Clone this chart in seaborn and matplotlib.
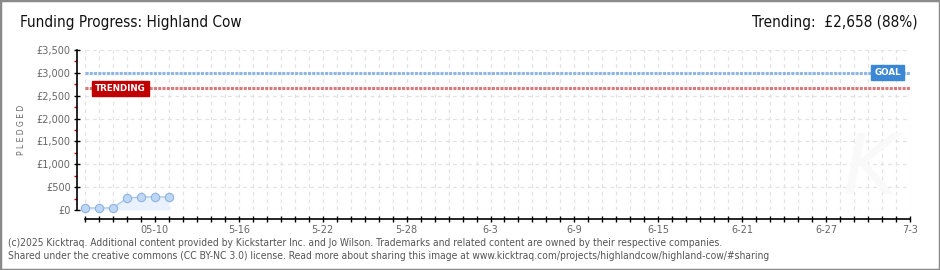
import pandas as pd
import numpy as np
import matplotlib
matplotlib.use('Agg')
import matplotlib.pyplot as plt
import matplotlib.dates as mdates
import matplotlib.patches as patches
import matplotlib.transforms as mtransforms
from matplotlib.ticker import FuncFormatter, MultipleLocator
import seaborn as sns

sns.set_style('white')
plt.rcParams['font.family'] = ['DejaVu Sans']

# data
dates = ['2025-05-05', '2025-05-06', '2025-05-07', '2025-05-08',
         '2025-05-09', '2025-05-10', '2025-05-11']
pledged = [45, 45, 45, 260, 285, 285, 285]
goal = 3000
trending = 2658
x_start, x_end = '2025-05-05', '2025-07-03'
tick_dates = ['2025-05-10', '2025-05-16', '2025-05-22', '2025-05-28', '2025-06-03',
              '2025-06-09', '2025-06-15', '2025-06-21', '2025-06-27', '2025-07-03']
tick_labels = ['05-10', '5-16', '5-22', '5-28', '6-3', '6-9', '6-15', '6-21', '6-27', '7-3']

df = pd.DataFrame({'date': pd.to_datetime(dates), 'pledged': pledged})

W, H = 940, 270
fig = plt.figure(figsize=(W / 100, H / 100), dpi=100)
ax = fig.add_axes([85 / W, (H - 210) / H, (910 - 85) / W, 160 / H])

# area + line
ax.fill_between(df['date'], df['pledged'], color='#e9f2fc', lw=0, zorder=1)
sns.lineplot(data=df, x='date', y='pledged', ax=ax, color='#a9c7ea', lw=1,
             marker='o', markersize=6, markerfacecolor='#bdd7f4',
             markeredgecolor='#8fb2de', markeredgewidth=0.8, clip_on=False, zorder=4)

# goal / trending lines
ax.axhline(goal, color='#90b6e4', lw=2.2, ls=(0, (1.0, 0.4)), zorder=3)
ax.axhline(trending, color='#d87a7a', lw=2.2, ls=(0, (1.0, 0.4)), zorder=3)

blend = mtransforms.blended_transform_factory(ax.transAxes, ax.transData)
ax.text(0.043, trending, 'TRENDING', transform=blend, ha='center', va='center',
        color='white', fontsize=6.3, fontweight='bold', zorder=6,
        bbox=dict(boxstyle='square,pad=0.35', fc='#c00000', ec='#c00000'))
ax.text(0.973, goal, 'GOAL', transform=blend, ha='center', va='center',
        color='white', fontsize=6.3, fontweight='bold', zorder=6,
        bbox=dict(boxstyle='square,pad=0.35', fc='#3b87d6', ec='#3b87d6'))

# axes limits / ticks
ax.set_xlim(pd.Timestamp(x_start), pd.Timestamp(x_end))
ax.set_ylim(0, 3500)
ax.set_xticks(pd.to_datetime(tick_dates))
ax.set_xticklabels(tick_labels)
ax.xaxis.set_minor_locator(mdates.DayLocator(interval=1))
ax.yaxis.set_major_locator(MultipleLocator(500))
ax.yaxis.set_minor_locator(MultipleLocator(250))
ax.yaxis.set_major_formatter(FuncFormatter(lambda v, p: f'£{v:,.0f}'))
ax.set_xlabel('')
ax.set_ylabel('')

ax.grid(which='both', axis='x', color='#e2e2e2', lw=0.9, ls=(0, (3, 3)))
ax.grid(which='major', axis='y', color='#e2e2e2', lw=0.9, ls=(0, (3, 3)))
ax.set_axisbelow(True)

for s in ['top', 'right']:
    ax.spines[s].set_visible(False)
ax.spines['left'].set_position(('outward', 5.8))
ax.spines['bottom'].set_position(('outward', 6.8))
ax.spines['left'].set_linewidth(1.2)
ax.spines['bottom'].set_linewidth(1.2)
ax.spines['left'].set_color('black')
ax.spines['bottom'].set_color('black')

ax.tick_params(which='both', bottom=True, left=True)
ax.tick_params(axis='y', which='major', direction='inout', length=5, width=1,
               color='black', labelsize=7, labelcolor='#666666', pad=2)
ax.tick_params(axis='y', which='minor', direction='out', length=2.5, width=1,
               color='#dd0000')
ax.tick_params(axis='x', which='both', direction='inout', length=4, width=1,
               color='black', labelsize=7, labelcolor='#666666', pad=2)
ax.tick_params(axis='x', which='minor', labelbottom=False)

# watermark
fig.text(870 / W, 1 - 170 / H, 'K', fontsize=60, color='#f9f9f9', style='italic',
         ha='center', va='center', zorder=0)

# texts
fig.text(20 / W, 1 - 23 / H, 'Funding Progress: Highland Cow', fontsize=11,
         fontstretch='condensed', color='#111111', ha='left', va='center')
fig.text(918 / W, 1 - 22 / H, 'Trending:  £2,658 (88%)', fontsize=11,
         fontstretch='condensed', color='#111111', ha='right', va='center')
fig.text(22 / W, 1 - 130 / H, 'P L E D G E D', fontsize=5.5, color='#666666',
         rotation=90, ha='center', va='center')
fig.text(8 / W, 1 - 243 / H,
         '(c)2025 Kicktraq. Additional content provided by Kickstarter Inc. and Jo Wilson. '
         'Trademarks and related content are owned by their respective companies.',
         fontsize=7.4, fontstretch='condensed', color='#555555', ha='left', va='center')
fig.text(8 / W, 1 - 256 / H,
         'Shared under the creative commons (CC BY-NC 3.0) license. Read more about sharing '
         'this image at www.kicktraq.com/projects/highlandcow/highland-cow/#sharing',
         fontsize=7.4, fontstretch='condensed', color='#555555', ha='left', va='center')

fig.patches.append(patches.Rectangle((0, 0), 1, 1, transform=fig.transFigure,
                                     fill=False, edgecolor='#8a8a8a', lw=2.5))

fig.savefig('out.png', dpi=100)
